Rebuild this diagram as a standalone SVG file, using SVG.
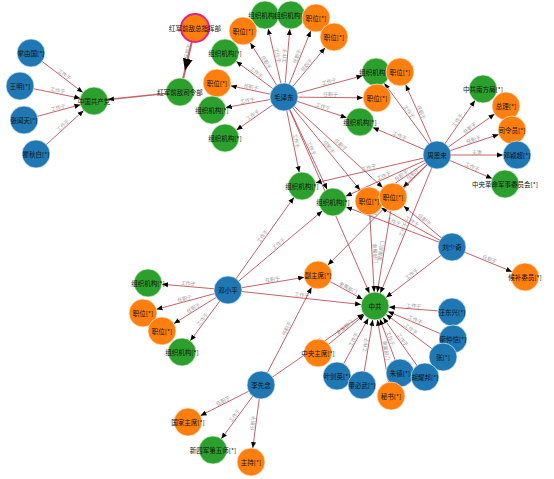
<svg xmlns="http://www.w3.org/2000/svg" width="554" height="479" viewBox="0 0 554 479">
<style>
.e{stroke:#b8474c;stroke-opacity:.85;stroke-width:1;fill:none;marker-end:url(#a)}
.el{font-family:"Noto Sans CJK SC","Noto Sans",sans-serif;font-size:5px;fill:#9a9a9a;text-anchor:middle}
.nl{font-family:"Noto Sans CJK SC","Noto Sans",sans-serif;font-size:6.5px;fill:#111;text-anchor:middle;dominant-baseline:central}
.B{fill:#1f77b4}.G{fill:#2ca02c}.O{fill:#ff7f0e}
circle{stroke:#fff;stroke-width:.6}
</style>
<defs>
<marker id="a" markerUnits="userSpaceOnUse" markerWidth="30" markerHeight="10" viewBox="0 -5 30 10" refX="20" refY="0" orient="auto"><path d="M0,-2.5L6,0L0,2.5z" fill="#000"/></marker>
<marker id="big" markerUnits="userSpaceOnUse" markerWidth="40" markerHeight="12" viewBox="0 -6 40 12" refX="34" refY="0" orient="auto"><path d="M0,-5L12,0L0,5z" fill="#000"/></marker>
</defs>
<rect width="554" height="479" fill="#fff"/>
<g id="edges">
<line class="e" x1="31" y1="53" x2="94" y2="101"/><text class="el" transform="translate(62.5,77) rotate(37.3)" y="-1.2">工作于</text>
<line class="e" x1="20" y1="86" x2="94" y2="101"/><text class="el" transform="translate(57,93.5) rotate(11.5)" y="-1.2">工作于</text>
<line class="e" x1="24" y1="120" x2="94" y2="101"/><text class="el" transform="translate(59,110.5) rotate(-15.2)" y="-1.2">工作于</text>
<line class="e" x1="36" y1="154" x2="94" y2="101"/><text class="el" transform="translate(65,127.5) rotate(-42.4)" y="-1.2">工作于</text>
<line class="e" x1="180" y1="92" x2="94" y2="101" style="stroke-width:1.5"/>
<line class="e" x1="195" y1="28" x2="180" y2="92" style="stroke-width:2;marker-end:url(#big)"/><text class="el" transform="translate(191,52) rotate(-76.8)" y="-1.5">任职于</text>
<line class="e" x1="284" y1="97" x2="265" y2="15"/><text class="el" transform="translate(274.5,56) rotate(77)" y="-1.2">工作于</text>
<line class="e" x1="284" y1="97" x2="291" y2="15"/><text class="el" transform="translate(287.5,56) rotate(-85.1)" y="-1.2">工作于</text>
<line class="e" x1="284" y1="97" x2="316" y2="18"/><text class="el" transform="translate(300,57.5) rotate(-68)" y="-1.2">任职于</text>
<line class="e" x1="284" y1="97" x2="334" y2="37"/><text class="el" transform="translate(309,67) rotate(-50.2)" y="-1.2">任职于</text>
<line class="e" x1="284" y1="97" x2="243" y2="31"/><text class="el" transform="translate(263.5,64) rotate(58.2)" y="-1.2">任职于</text>
<line class="e" x1="284" y1="97" x2="225" y2="53"/><text class="el" transform="translate(254.5,75) rotate(36.7)" y="-1.2">工作于</text>
<line class="e" x1="284" y1="97" x2="217" y2="83"/><text class="el" transform="translate(250.5,90) rotate(11.8)" y="-1.2">任职于</text>
<line class="e" x1="284" y1="97" x2="212" y2="110"/><text class="el" transform="translate(248,103.5) rotate(-10.2)" y="-1.2">工作于</text>
<line class="e" x1="284" y1="97" x2="225" y2="138"/><text class="el" transform="translate(254.5,117.5) rotate(-34.8)" y="-1.2">工作于</text>
<line class="e" x1="284" y1="97" x2="376" y2="72"/><text class="el" transform="translate(330,84.5) rotate(-15.2)" y="-1.2">工作于</text>
<line class="e" x1="284" y1="97" x2="377" y2="98"/><text class="el" transform="translate(330.5,97.5) rotate(0.6)" y="-1.2">任职于</text>
<line class="e" x1="284" y1="97" x2="360" y2="122"/><text class="el" transform="translate(322,109.5) rotate(18.2)" y="-1.2">工作于</text>
<line class="e" x1="284" y1="97" x2="302" y2="186"/><text class="el" transform="translate(293,141.5) rotate(78.6)" y="-1.2">工作于</text>
<line class="e" x1="284" y1="97" x2="333" y2="202"/><text class="el" transform="translate(308.5,149.5) rotate(65)" y="-1.2">工作于</text>
<line class="e" x1="284" y1="97" x2="369" y2="201"/><text class="el" transform="translate(326.5,149) rotate(50.7)" y="-1.2">任职于</text>
<line class="e" x1="284" y1="97" x2="393" y2="197"/><text class="el" transform="translate(338.5,147) rotate(42.5)" y="-1.2">任职于</text>
<line class="e" x1="284" y1="97" x2="375" y2="306"/><text class="el" transform="translate(329.5,201.5) rotate(66.5)" y="-1.2">工作于</text>
<line class="e" x1="437" y1="155" x2="483" y2="89"/><text class="el" transform="translate(460,122) rotate(-55.1)" y="-1.2">工作于</text>
<line class="e" x1="437" y1="155" x2="506" y2="106"/><text class="el" transform="translate(471.5,130.5) rotate(-35.4)" y="-1.2">任职于</text>
<line class="e" x1="437" y1="155" x2="512" y2="130"/><text class="el" transform="translate(474.5,142.5) rotate(-18.4)" y="-1.2">任职于</text>
<line class="e" x1="437" y1="155" x2="517" y2="155"/><text class="el" transform="translate(477,155)" y="-1.2">夫妻</text>
<line class="e" x1="437" y1="155" x2="505" y2="184"/><text class="el" transform="translate(471,169.5) rotate(23.1)" y="-1.2">工作于</text>
<line class="e" x1="437" y1="155" x2="376" y2="72"/><text class="el" transform="translate(406.5,113.5) rotate(53.7)" y="-1.2">工作于</text>
<line class="e" x1="437" y1="155" x2="400" y2="72"/><text class="el" transform="translate(418.5,113.5) rotate(66)" y="-1.2">任职于</text>
<line class="e" x1="437" y1="155" x2="360" y2="122"/><text class="el" transform="translate(398.5,138.5) rotate(23.2)" y="-1.2">工作于</text>
<line class="e" x1="437" y1="155" x2="302" y2="186"/><text class="el" transform="translate(369.5,170.5) rotate(-13)" y="-1.2">工作于</text>
<line class="e" x1="437" y1="155" x2="333" y2="202"/><text class="el" transform="translate(385,178.5) rotate(-24.3)" y="-1.2">工作于</text>
<line class="e" x1="437" y1="155" x2="369" y2="201"/><text class="el" transform="translate(403,178) rotate(-34.1)" y="-1.2">任职于</text>
<line class="e" x1="437" y1="155" x2="393" y2="197"/><text class="el" transform="translate(415,176) rotate(-43.7)" y="-1.2">任职于</text>
<line class="e" x1="437" y1="155" x2="375" y2="306"/><text class="el" transform="translate(406,230.5) rotate(-67.7)" y="-1.2">工作于</text>
<line class="e" x1="437" y1="155" x2="318" y2="275"/><text class="el" transform="translate(377.5,215) rotate(-45.2)" y="-1.2">任职于</text>
<line class="e" x1="452" y1="247" x2="525" y2="277"/><text class="el" transform="translate(488.5,262) rotate(22.3)" y="-1.2">任职于</text>
<line class="e" x1="452" y1="247" x2="375" y2="306"/><text class="el" transform="translate(413.5,276.5) rotate(-37.5)" y="-1.2">工作于</text>
<line class="e" x1="452" y1="247" x2="393" y2="197"/><text class="el" transform="translate(422.5,222) rotate(40.3)" y="-1.2">任职于</text>
<line class="e" x1="452" y1="247" x2="369" y2="201"/><text class="el" transform="translate(410.5,224) rotate(29)" y="-1.2">工作于</text>
<line class="e" x1="452" y1="247" x2="333" y2="202"/><text class="el" transform="translate(392.5,224.5) rotate(20.7)" y="-1.2">工作于</text>
<line class="e" x1="369" y1="201" x2="375" y2="306"/><text class="el" transform="translate(372,253.5) rotate(86.7)" y="-1.2">隶属部门</text>
<line class="e" x1="393" y1="197" x2="375" y2="306"/><text class="el" transform="translate(384,251.5) rotate(-80.6)" y="-1.2">隶属部门</text>
<line class="e" x1="318" y1="275" x2="375" y2="306"/><text class="el" transform="translate(346.5,290.5) rotate(28.5)" y="-1.2">隶属部门</text>
<line class="e" x1="318" y1="353" x2="375" y2="306"/><text class="el" transform="translate(346.5,329.5) rotate(-39.5)" y="-1.2">隶属部门</text>
<line class="e" x1="391" y1="396" x2="375" y2="306"/><text class="el" transform="translate(383,351) rotate(80)" y="-1.2">隶属部门</text>
<line class="e" x1="228" y1="290" x2="302" y2="186"/><text class="el" transform="translate(265,238) rotate(-54.6)" y="-1.2">工作于</text>
<line class="e" x1="228" y1="290" x2="333" y2="202"/><text class="el" transform="translate(280.5,246) rotate(-40)" y="-1.2">工作于</text>
<line class="e" x1="228" y1="290" x2="318" y2="275"/><text class="el" transform="translate(273,282.5) rotate(-9.5)" y="-1.2">任职于</text>
<line class="e" x1="228" y1="290" x2="375" y2="306"/><text class="el" transform="translate(301.5,298) rotate(6.2)" y="-1.2">工作于</text>
<line class="e" x1="228" y1="290" x2="148" y2="283"/><text class="el" transform="translate(188,286.5) rotate(5)" y="-1.2">工作于</text>
<line class="e" x1="228" y1="290" x2="143" y2="313"/><text class="el" transform="translate(185.5,301.5) rotate(-15.1)" y="-1.2">任职于</text>
<line class="e" x1="228" y1="290" x2="162" y2="331"/><text class="el" transform="translate(195,310.5) rotate(-31.8)" y="-1.2">任职于</text>
<line class="e" x1="228" y1="290" x2="182" y2="352"/><text class="el" transform="translate(205,321) rotate(-53.4)" y="-1.2">工作于</text>
<line class="e" x1="261" y1="385" x2="188" y2="422"/><text class="el" transform="translate(224.5,403.5) rotate(-27)" y="-1.2">任职于</text>
<line class="e" x1="261" y1="385" x2="213" y2="450"/><text class="el" transform="translate(237,417.5) rotate(-53.6)" y="-1.2">工作于</text>
<line class="e" x1="261" y1="385" x2="251" y2="462"/><text class="el" transform="translate(256,423.5) rotate(-82.6)" y="-1.2">任职于</text>
<line class="e" x1="261" y1="385" x2="318" y2="275"/><text class="el" transform="translate(289.5,330) rotate(-62.6)" y="-1.2">任职于</text>
<line class="e" x1="261" y1="385" x2="375" y2="306"/><text class="el" transform="translate(318,345.5) rotate(-34.7)" y="-1.2">工作于</text>
<line class="e" x1="452" y1="312" x2="375" y2="306"/><text class="el" transform="translate(413.5,309) rotate(4.5)" y="-1.2">工作于</text>
<line class="e" x1="453" y1="339" x2="375" y2="306"/><text class="el" transform="translate(414,322.5) rotate(23)" y="-1.2">工作于</text>
<line class="e" x1="443" y1="357" x2="375" y2="306"/><text class="el" transform="translate(409,331.5) rotate(36.9)" y="-1.2">工作于</text>
<line class="e" x1="400" y1="373" x2="375" y2="306"/><text class="el" transform="translate(387.5,339.5) rotate(69.5)" y="-1.2">工作于</text>
<line class="e" x1="425" y1="377" x2="375" y2="306"/><text class="el" transform="translate(400,341.5) rotate(54.8)" y="-1.2">工作于</text>
<line class="e" x1="337" y1="376" x2="375" y2="306"/><text class="el" transform="translate(356,341) rotate(-61.5)" y="-1.2">工作于</text>
<line class="e" x1="362" y1="385" x2="375" y2="306"/><text class="el" transform="translate(368.5,345.5) rotate(-80.7)" y="-1.2">工作于</text>
</g>
<g id="n1"><circle class="B" cx="31" cy="53" r="14"/><text class="nl" x="31" y="53">掌由国[*]</text></g>
<g id="n2"><circle class="B" cx="20" cy="86" r="14"/><text class="nl" x="20" y="86">王明[*]</text></g>
<g id="n3"><circle class="B" cx="24" cy="120" r="14"/><text class="nl" x="24" y="120">张闻天[*]</text></g>
<g id="n4"><circle class="B" cx="36" cy="154" r="14"/><text class="nl" x="36" y="154">瞿秋白[*]</text></g>
<g id="n5"><circle class="G" cx="94" cy="101" r="14"/><text class="nl" x="94" y="101">中国共产党</text></g>
<g id="n6"><circle class="G" cx="180" cy="92" r="14"/><text class="nl" x="180" y="92">红军前敌司令部</text></g>
<g id="n7"><circle class="O" cx="195" cy="28" r="14" style="stroke:#e4208a;stroke-width:2"/><text class="nl" x="195" y="28">红军前敌总指挥部</text></g>
<g id="n9"><circle class="G" cx="265" cy="15" r="14"/><text class="nl" x="265" y="15">组织机构[*]</text></g>
<g id="n10"><circle class="G" cx="291" cy="15" r="14"/><text class="nl" x="291" y="15">组织机构[*]</text></g>
<g id="n11"><circle class="O" cx="316" cy="18" r="14"/><text class="nl" x="316" y="18">职位[*]</text></g>
<g id="n12"><circle class="O" cx="334" cy="37" r="14"/><text class="nl" x="334" y="37">职位[*]</text></g>
<g id="n13"><circle class="O" cx="243" cy="31" r="14"/><text class="nl" x="243" y="31">职位[*]</text></g>
<g id="n14"><circle class="G" cx="225" cy="53" r="14"/><text class="nl" x="225" y="53">组织机构[*]</text></g>
<g id="n15"><circle class="O" cx="217" cy="83" r="14"/><text class="nl" x="217" y="83">职位[*]</text></g>
<g id="n16"><circle class="G" cx="212" cy="110" r="14"/><text class="nl" x="212" y="110">组织机构[*]</text></g>
<g id="n17"><circle class="G" cx="225" cy="138" r="14"/><text class="nl" x="225" y="138">组织机构[*]</text></g>
<g id="n8"><circle class="B" cx="284" cy="97" r="14"/><text class="nl" x="284" y="97">毛泽东</text></g>
<g id="n18"><circle class="G" cx="376" cy="72" r="14"/><text class="nl" x="376" y="72">组织机构[*]</text></g>
<g id="n19"><circle class="O" cx="400" cy="72" r="14"/><text class="nl" x="400" y="72">职位[*]</text></g>
<g id="n20"><circle class="O" cx="377" cy="98" r="14"/><text class="nl" x="377" y="98">职位[*]</text></g>
<g id="n21"><circle class="G" cx="360" cy="122" r="14"/><text class="nl" x="360" y="122">组织机构[*]</text></g>
<g id="n23"><circle class="G" cx="483" cy="89" r="14"/><text class="nl" x="483" y="89">中共南方局[*]</text></g>
<g id="n24"><circle class="O" cx="506" cy="106" r="14"/><text class="nl" x="506" y="106">总理[*]</text></g>
<g id="n25"><circle class="O" cx="512" cy="130" r="14"/><text class="nl" x="512" y="130">司令员[*]</text></g>
<g id="n26"><circle class="B" cx="517" cy="155" r="14"/><text class="nl" x="517" y="155">邓颖超[*]</text></g>
<g id="n27"><circle class="G" cx="505" cy="184" r="14"/><text class="nl" x="505" y="184">中央革命军事委员会[*]</text></g>
<g id="n22"><circle class="B" cx="437" cy="155" r="14"/><text class="nl" x="437" y="155">周恩来</text></g>
<g id="n28"><circle class="G" cx="302" cy="186" r="14"/><text class="nl" x="302" y="186">组织机构[*]</text></g>
<g id="n29"><circle class="G" cx="333" cy="202" r="14"/><text class="nl" x="333" y="202">组织机构[*]</text></g>
<g id="n30"><circle class="O" cx="369" cy="201" r="14"/><text class="nl" x="369" y="201">职位[*]</text></g>
<g id="n31"><circle class="O" cx="393" cy="197" r="14"/><text class="nl" x="393" y="197">职位[*]</text></g>
<g id="n32"><circle class="B" cx="452" cy="247" r="14"/><text class="nl" x="452" y="247">刘少奇</text></g>
<g id="n33"><circle class="O" cx="525" cy="277" r="14"/><text class="nl" x="525" y="277">候补委员[*]</text></g>
<g id="n34"><circle class="G" cx="375" cy="306" r="14"/><text class="nl" x="375" y="306">中共</text></g>
<g id="n35"><circle class="B" cx="452" cy="312" r="14"/><text class="nl" x="452" y="312">汪东兴[*]</text></g>
<g id="n36"><circle class="B" cx="453" cy="339" r="14"/><text class="nl" x="453" y="339">廖仲恺[*]</text></g>
<g id="n37"><circle class="B" cx="443" cy="357" r="14"/><text class="nl" x="443" y="357">张[*]</text></g>
<g id="n38"><circle class="B" cx="400" cy="373" r="14"/><text class="nl" x="400" y="373">朱德[*]</text></g>
<g id="n39"><circle class="B" cx="425" cy="377" r="14"/><text class="nl" x="425" y="377">胡耀邦[*]</text></g>
<g id="n40"><circle class="O" cx="391" cy="396" r="14"/><text class="nl" x="391" y="396">秘书[*]</text></g>
<g id="n41"><circle class="B" cx="337" cy="376" r="14"/><text class="nl" x="337" y="376">叶剑英[*]</text></g>
<g id="n42"><circle class="B" cx="362" cy="385" r="14"/><text class="nl" x="362" y="385">董必武[*]</text></g>
<g id="n43"><circle class="O" cx="318" cy="353" r="14"/><text class="nl" x="318" y="353">中央主席[*]</text></g>
<g id="n44"><circle class="O" cx="318" cy="275" r="14"/><text class="nl" x="318" y="275">副主席[*]</text></g>
<g id="n46"><circle class="G" cx="148" cy="283" r="14"/><text class="nl" x="148" y="283">组织机构[*]</text></g>
<g id="n47"><circle class="O" cx="143" cy="313" r="14"/><text class="nl" x="143" y="313">职位[*]</text></g>
<g id="n48"><circle class="O" cx="162" cy="331" r="14"/><text class="nl" x="162" y="331">职位[*]</text></g>
<g id="n49"><circle class="G" cx="182" cy="352" r="14"/><text class="nl" x="182" y="352">组织机构[*]</text></g>
<g id="n45"><circle class="B" cx="228" cy="290" r="14"/><text class="nl" x="228" y="290">邓小平</text></g>
<g id="n51"><circle class="O" cx="188" cy="422" r="14"/><text class="nl" x="188" y="422">国家主席[*]</text></g>
<g id="n52"><circle class="G" cx="213" cy="450" r="14"/><text class="nl" x="213" y="450">新四军第五师[*]</text></g>
<g id="n53"><circle class="O" cx="251" cy="462" r="14"/><text class="nl" x="251" y="462">主持[*]</text></g>
<g id="n50"><circle class="B" cx="261" cy="385" r="14"/><text class="nl" x="261" y="385">李先念</text></g>
</svg>
